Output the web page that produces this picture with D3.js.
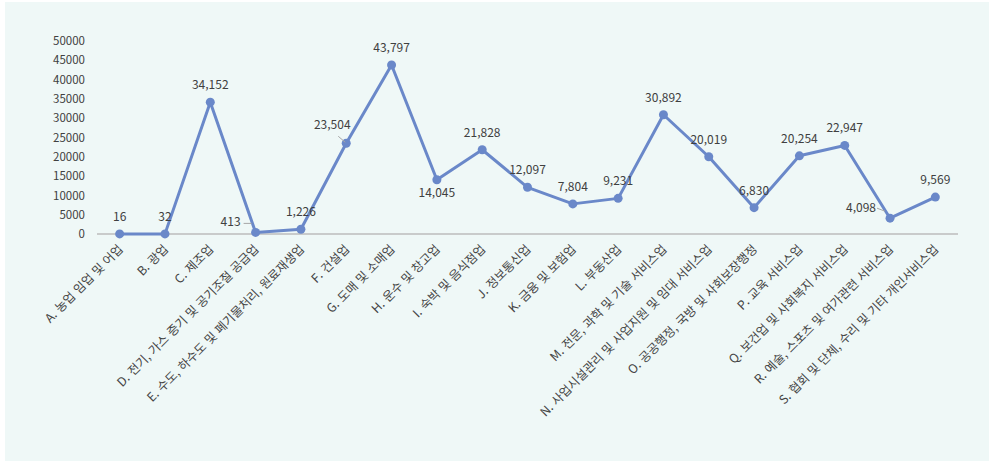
<!DOCTYPE html>
<html lang="ko">
<head>
<meta charset="utf-8">
<script src="https://cdn.jsdelivr.net/npm/d3@7"></script>
<style>
  html, body { margin: 0; padding: 0; background: #ffffff; }
  svg { display: block; font-family: "Noto Sans CJK KR", "Noto Sans", sans-serif; }
</style>
</head>
<body>
<svg id="chart" width="994" height="463"></svg>
<script>
// 산업별 종사자 수
const categories = [
  "A. 농업 임업 및 어업",
  "B. 광업",
  "C. 제조업",
  "D. 전기, 가스 증기 및 공기조절 공급업",
  "E. 수도, 하수도 및 폐기물처리, 원료재생업",
  "F. 건설업",
  "G. 도매 및 소매업",
  "H. 운수 및 창고업",
  "I. 숙박 및 음식점업",
  "J. 정보통신업",
  "K. 금융 및 보험업",
  "L. 부동산업",
  "M. 전문, 과학 및 기술 서비스업",
  "N. 사업시설관리 및 사업지원 및 임대 서비스업",
  "O. 공공행정, 국방 및 사회보장행정",
  "P. 교육 서비스업",
  "Q. 보건업 및 사회복지 서비스업",
  "R. 예술, 스포츠 및 여가관련 서비스업",
  "S. 협회 및 단체, 수리 및 기타 개인서비스업"
];
const values = [16, 32, 34152, 413, 1226, 23504, 43797, 14045, 21828, 12097, 7804, 9231, 30892, 20019, 6830, 20254, 22947, 4098, 9569];
const yTicks = [0, 5000, 10000, 15000, 20000, 25000, 30000, 35000, 40000, 45000, 50000];

const svg = d3.select("#chart");
const W = 994, H = 463;
const margin = { left: 97, right: 36, top: 41, bottom: 229 };

svg.append("rect")
  .attr("x", 5).attr("y", 2)
  .attr("width", 984).attr("height", 459)
  .attr("fill", "#eff8f7");

const x = d3.scaleBand()
  .domain(categories)
  .range([margin.left, W - margin.right]);

const y = d3.scaleLinear()
  .domain([0, 50000])
  .range([H - margin.bottom, margin.top]);

const cx = d => x(d) + x.bandwidth() / 2;

// Y axis labels (no axis line)
const yAxis = svg.append("g")
  .attr("transform", `translate(${margin.left - 12},0)`)
  .call(d3.axisLeft(y).tickValues(yTicks).tickSize(0).tickPadding(0).tickFormat(d3.format("d")));
yAxis.select(".domain").remove();
yAxis.selectAll("text")
  .attr("font-size", 11.5)
  .attr("fill", "#404040")
  .attr("font-family", "'Noto Sans CJK KR', 'Noto Sans', sans-serif");

// X axis baseline
svg.append("line")
  .attr("x1", margin.left).attr("x2", W - margin.right)
  .attr("y1", y(0)).attr("y2", y(0))
  .attr("stroke", "#bdbdbd").attr("stroke-width", 1.5);

// Category labels, rotated
svg.append("g").selectAll("text")
  .data(categories)
  .join("text")
  .attr("transform", d => `translate(${cx(d) + 4},${y(0) + 16}) rotate(-45)`)
  .attr("text-anchor", "end")
  .attr("font-size", 12.3)
  .attr("fill", "#454545")
  .text(d => d);

const pts = categories.map((c, i) => ({ c, v: values[i], i }));

// Line
svg.append("path")
  .datum(pts)
  .attr("fill", "none")
  .attr("stroke", "#6a88c9")
  .attr("stroke-width", 3)
  .attr("stroke-linejoin", "round")
  .attr("d", d3.line().x(d => cx(d.c)).y(d => y(d.v)));

// Markers
svg.append("g").selectAll("circle")
  .data(pts)
  .join("circle")
  .attr("cx", d => cx(d.c))
  .attr("cy", d => y(d.v))
  .attr("r", 4.5)
  .attr("fill", "#6a88c9");

// Value labels: most sit above the marker, a few are moved aside with a leader line
const placement = {
  3:  { dx: -15, dy: -6, anchor: "end", leader: [[-12, -9], [-4, -9]] },
  5:  { dx: -14, dy: -14, anchor: "middle", leader: [[-8, -7], [-1, -1]] },
  7:  { dx: 0, dy: 17, anchor: "middle" },
  17: { dx: -14, dy: -6, anchor: "end", leader: [[-13, -10], [-5, -7]] }
};

const fmt = d3.format(",");
const labels = svg.append("g");
pts.forEach(p => {
  const pl = placement[p.i] || { dx: 0, dy: -13, anchor: "middle" };
  const px = cx(p.c), py = y(p.v);
  if (pl.leader) {
    labels.append("line")
      .attr("x1", px + pl.leader[0][0]).attr("y1", py + pl.leader[0][1])
      .attr("x2", px + pl.leader[1][0]).attr("y2", py + pl.leader[1][1])
      .attr("stroke", "#a6a6a6").attr("stroke-width", 1);
  }
  labels.append("text")
    .attr("x", px + pl.dx)
    .attr("y", py + pl.dy)
    .attr("text-anchor", pl.anchor)
    .attr("font-size", 12)
    .attr("fill", "#404040")
    .text(fmt(p.v));
});
</script>
</body>
</html>
